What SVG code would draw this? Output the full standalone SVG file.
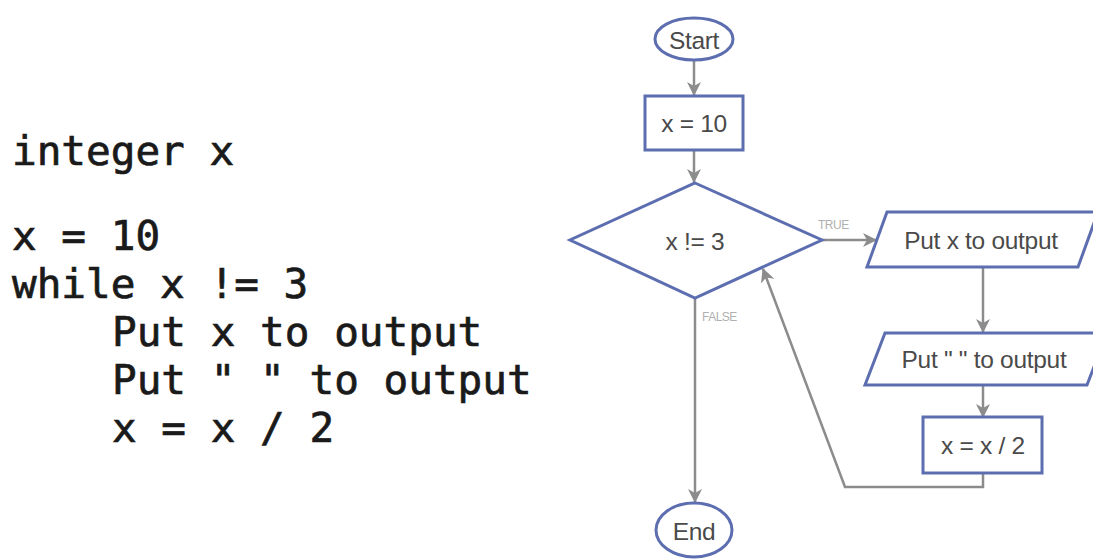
<svg xmlns="http://www.w3.org/2000/svg" width="1093" height="559" viewBox="0 0 1093 559">
  <style>
    .code { font-family: "DejaVu Sans Mono", "Liberation Mono", monospace; font-size: 41px; fill: #1a1a1a; stroke: #1a1a1a; stroke-width: 0.7px; }
    .node { fill: #ffffff; stroke: #5d6eb0; stroke-width: 3; }
    .lbl { font-family: "Liberation Sans", Arial, sans-serif; font-size: 24.5px; fill: #4a4a4a; text-anchor: middle; dominant-baseline: central; letter-spacing: -0.3px; }
    .edge { fill: none; stroke: #8c8c8c; stroke-width: 2.5; }
    .elbl { font-family: "Liberation Sans", Arial, sans-serif; font-size: 12px; fill: #b0b0b0; letter-spacing: -0.5px; }
  </style>
  <defs>
    <marker id="arr" viewBox="0 0 14 14" refX="13" refY="7" markerWidth="14" markerHeight="14" markerUnits="userSpaceOnUse" orient="auto">
      <path d="M0,0 L14,7 L0,14 L4,7 Z" fill="#8c8c8c"/>
    </marker>
  </defs>
  <rect width="1093" height="559" fill="#ffffff"/>

  <g id="code">
    <text class="code" x="12" y="165">integer x</text>
    <text class="code" x="12" y="250">x = 10</text>
    <text class="code" x="12" y="298">while x != 3</text>
    <text class="code" x="112" y="346">Put x to output</text>
    <text class="code" x="112" y="394">Put " " to output</text>
    <text class="code" x="112" y="442">x = x / 2</text>
  </g>

  <g id="connectors">
    <path class="edge" d="M694,60 L694,95" marker-end="url(#arr)"/>
    <path class="edge" d="M694,150 L694,182" marker-end="url(#arr)"/>
    <path class="edge" d="M822,240 L876,240" marker-end="url(#arr)"/>
    <path class="edge" d="M983,267 L983,332" marker-end="url(#arr)"/>
    <path class="edge" d="M983,385 L983,417" marker-end="url(#arr)"/>
    <path class="edge" d="M983,473 L983,487 L845,487 L763,269" marker-end="url(#arr)"/>
    <path class="edge" d="M695,298 L695,502" marker-end="url(#arr)"/>
    <text class="elbl" x="818" y="229">TRUE</text>
    <text class="elbl" x="702" y="321">FALSE</text>
  </g>

  <g id="start">
    <ellipse class="node" cx="694" cy="39" rx="39" ry="21"/>
    <text class="lbl" x="694" y="40">Start</text>
  </g>
  <g id="init">
    <rect class="node" x="645" y="96" width="98" height="54"/>
    <text class="lbl" x="694" y="123">x = 10</text>
  </g>
  <g id="cond">
    <polygon class="node" points="695,183 822,240 695,298 570,240"/>
    <text class="lbl" x="695" y="241">x != 3</text>
  </g>
  <g id="out1">
    <polygon class="node" points="887,212 1098,212 1078,267 867,267"/>
    <text class="lbl" x="981" y="240">Put x to output</text>
  </g>
  <g id="out2">
    <polygon class="node" points="885,333 1107,333 1087,385 865,385"/>
    <text class="lbl" x="984" y="359">Put " " to output</text>
  </g>
  <g id="halve">
    <rect class="node" x="923" y="417" width="119" height="56"/>
    <text class="lbl" x="983" y="445">x = x / 2</text>
  </g>
  <g id="end">
    <ellipse class="node" cx="694" cy="530" rx="38" ry="27"/>
    <text class="lbl" x="694" y="531">End</text>
  </g>
</svg>
